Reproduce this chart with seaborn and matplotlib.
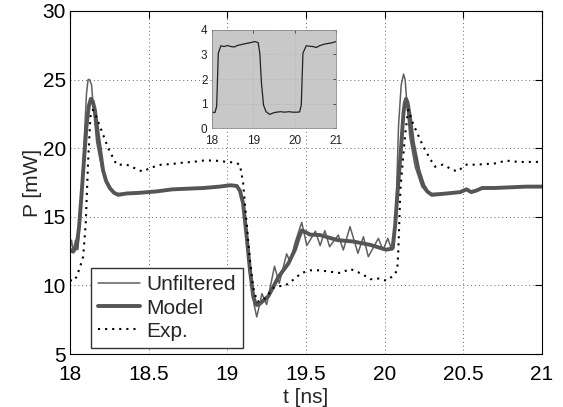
import matplotlib
matplotlib.use("Agg")
import matplotlib.pyplot as plt
import seaborn as sns
import numpy as np

# ---- data ----
t_model = [18.00, 18.02, 18.042, 18.058, 18.074, 18.09, 18.105, 18.12, 18.133, 18.145, 18.158,
           18.18, 18.21, 18.23, 18.254, 18.28, 18.307, 18.36, 18.445, 18.55, 18.65, 18.75,
           18.85, 18.95, 19.02, 19.06, 19.08, 19.10, 19.123, 19.144, 19.165, 19.177, 19.187,
           19.20, 19.22, 19.26, 19.324, 19.388, 19.43, 19.455, 19.473, 19.495, 19.526, 19.59,
           19.70, 19.80, 19.91, 20.01, 20.05, 20.066, 20.082, 20.098, 20.12, 20.128, 20.136,
           20.146, 20.16, 20.18, 20.215, 20.246, 20.27, 20.30, 20.395, 20.48, 20.52, 20.55,
           20.58, 20.62, 20.70, 20.80, 20.90, 21.00]
p_model = [12.6, 12.46, 12.82, 14.3, 16.7, 19.3, 21.6, 23.1, 23.6, 23.4, 22.8,
           20.8, 18.4, 17.6, 17.08, 16.75, 16.6, 16.7, 16.75, 16.85, 17.0, 17.05,
           17.1, 17.2, 17.3, 17.25, 16.9, 16.0, 13.55, 11.1, 9.2, 8.75, 8.57,
           8.6, 8.8, 9.2, 10.6, 11.6, 12.6, 13.5, 14.0, 13.9, 13.7, 13.67,
           13.3, 13.2, 12.95, 12.6, 12.7, 14.3, 16.8, 19.1, 22.6, 23.3, 23.6,
           23.3, 22.3, 20.4, 18.4, 17.3, 16.85, 16.6, 16.7, 16.8, 17.0, 16.8,
           16.9, 17.1, 17.1, 17.15, 17.2, 17.2]

t_unf = [18.00, 18.01, 18.02, 18.035, 18.05, 18.07, 18.09, 18.105, 18.115, 18.125, 18.137,
         18.15, 18.17, 18.20, 18.22, 18.243, 18.27, 18.30, 18.36, 18.445, 18.55, 18.65, 18.75,
         18.85, 18.95, 19.02, 19.06, 19.08, 19.10, 19.123, 19.15, 19.17, 19.187, 19.205, 19.22,
         19.25, 19.30, 19.33, 19.377, 19.40, 19.43, 19.473, 19.505, 19.56, 19.59, 19.62, 19.65,
         19.705, 19.737, 19.78, 19.83, 19.865, 19.896, 19.96, 19.99, 20.02, 20.045, 20.06,
         20.075, 20.088, 20.105, 20.12, 20.13, 20.14, 20.16, 20.194, 20.236, 20.26, 20.29,
         20.395, 20.48, 20.52, 20.55, 20.58, 20.62, 20.70, 20.80, 20.90, 21.00]
p_unf = [12.7, 13.3, 12.5, 13.3, 12.6, 15.5, 20.5, 24.0, 25.0, 25.0, 24.6,
         22.8, 20.4, 18.65, 17.8, 17.2, 16.85, 16.7, 16.7, 16.8, 16.85, 17.0, 17.05,
         17.1, 17.2, 17.3, 17.25, 16.9, 16.0, 13.4, 10.5, 8.6, 7.7, 8.6, 9.4,
         8.6, 11.4, 10.15, 12.3, 11.7, 13.1, 14.6, 12.9, 13.95, 12.9, 13.99, 12.82,
         13.67, 12.58, 14.28, 12.34, 13.55, 12.09, 13.43, 12.58, 13.43, 12.58, 12.8,
         16.5, 21.6, 24.6, 25.4, 25.0, 23.5, 20.8, 18.65, 17.2, 16.9, 16.7,
         16.7, 16.8, 17.0, 16.8, 16.9, 17.1, 17.1, 17.15, 17.2, 17.2]

t_exp = [18.00, 18.02, 18.04, 18.06, 18.084, 18.10, 18.115, 18.13, 18.145, 18.16, 18.19, 18.243,
         18.296, 18.36, 18.42, 18.46, 18.52, 18.58, 18.65, 18.72, 18.78, 18.85, 18.92, 19.00,
         19.05, 19.08, 19.10, 19.123, 19.144, 19.165, 19.19, 19.24, 19.30, 19.37, 19.43, 19.47,
         19.53, 19.59, 19.65, 19.72, 19.78, 19.83, 19.875, 19.91, 19.96, 20.01, 20.055, 20.08,
         20.087, 20.10, 20.13, 20.15, 20.18, 20.242, 20.29, 20.32, 20.37, 20.42, 20.46, 20.52,
         20.58, 20.65, 20.71, 20.77, 20.85, 20.92, 21.00]
p_exp = [10.4, 10.3, 10.6, 11.2, 12.1, 14.5, 19.0, 22.3, 22.8, 22.5, 21.6, 20.0,
         18.8, 18.8, 18.5, 18.3, 18.6, 18.8, 18.85, 18.95, 19.0, 19.1, 19.1, 19.0,
         18.95, 18.8, 17.5, 14.5, 11.8, 9.8, 8.8, 9.06, 9.9, 10.0, 10.5, 10.9,
         11.1, 11.1, 11.0, 10.9, 11.2, 10.97, 10.7, 10.45, 10.5, 10.35, 10.7, 11.1,
         12.6, 17.0, 21.0, 22.8, 21.8, 20.2, 19.2, 18.65, 18.8, 18.5, 18.3, 18.8,
         18.8, 18.85, 18.9, 19.1, 19.0, 19.0, 19.0]

t_inset = [18.00, 18.08, 18.12, 18.16, 18.22, 18.30, 18.38, 18.46, 18.54, 18.62, 18.72, 18.82,
           18.92, 19.04, 19.12, 19.16, 19.20, 19.25, 19.31, 19.40, 19.48, 19.56, 19.66, 19.76,
           19.86, 19.96, 20.06, 20.12, 20.16, 20.20, 20.28, 20.36, 20.44, 20.52, 20.60, 20.70,
           20.80, 20.90, 21.00]
v_inset = [0.65, 0.65, 0.9, 3.05, 3.35, 3.32, 3.36, 3.32, 3.30, 3.36, 3.40, 3.44,
           3.47, 3.52, 3.48, 3.05, 1.84, 0.95, 0.68, 0.57, 0.63, 0.66, 0.68, 0.66,
           0.68, 0.66, 0.66, 0.67, 0.95, 3.05, 3.35, 3.33, 3.32, 3.28, 3.35, 3.41,
           3.44, 3.47, 3.52]

x_ticks = [18, 18.5, 19, 19.5, 20, 20.5, 21]
x_ticklabels = ["18", "18.5", "19", "19.5", "20", "20.5", "21"]
y_ticks = [5, 10, 15, 20, 25, 30]
inset_xticks = [18, 19, 20, 21]
inset_yticks = [0, 1, 2, 3, 4]

# ---- style ----
sns.set_style("white")
plt.rcParams["font.family"] = ["Liberation Sans", "DejaVu Sans"]
plt.rcParams["xtick.direction"] = "in"
plt.rcParams["ytick.direction"] = "in"
plt.rcParams["lines.solid_joinstyle"] = "round"
plt.rcParams["lines.solid_capstyle"] = "round"

fig = plt.figure(figsize=(5.63, 4.07), dpi=100)
ax = fig.add_axes([0.1243, 0.1302, 0.8384, 0.8428])

sns.lineplot(x=t_unf, y=p_unf, ax=ax, color="#606060", lw=1.1, label="Unfiltered", sort=False)
sns.lineplot(x=t_model, y=p_model, ax=ax, color="#555555", lw=2.8, label="Model", sort=False)
sns.lineplot(x=t_exp, y=p_exp, ax=ax, color="black", lw=1.5, ls=(0, (1, 2.4)), label="Exp.", sort=False)

ax.set_xlim(18, 21)
ax.set_ylim(5, 30)
ax.set_xticks(x_ticks)
ax.set_xticklabels(x_ticklabels)
ax.set_yticks(y_ticks)
ax.tick_params(axis="both", labelsize=15, length=5, width=0.8, top=True, right=True,
               colors="black")
ax.tick_params(axis="x", pad=8)
ax.tick_params(axis="y", pad=3)
ax.grid(True, color="#666666", ls=(0, (1, 3)), lw=0.7)
for s in ax.spines.values():
    s.set_color("black")
    s.set_linewidth(0.8)
ax.set_xlabel("t [ns]", fontsize=15, labelpad=3)
ax.set_ylabel("P [mW]", fontsize=15, labelpad=0)

leg = ax.legend(loc="lower left", bbox_to_anchor=(0.044, 0.0175), borderaxespad=0,
                fontsize=15, fancybox=False, framealpha=1, edgecolor="#333333",
                handlelength=2.0, handletextpad=0.3, labelspacing=0.2, borderpad=0.35)
leg.get_frame().set_linewidth(1.0)

# ---- inset ----
axi = fig.add_axes([0.376, 0.6843, 0.221, 0.2427])
axi.set_facecolor("#c8c8c8")
sns.lineplot(x=t_inset, y=v_inset, ax=axi, color="#222222", lw=0.9, sort=False)
axi.set_xlim(18, 21)
axi.set_ylim(0, 4)
axi.set_xticks(inset_xticks)
axi.set_yticks(inset_yticks)
axi.tick_params(axis="both", labelsize=8.5, length=2, width=0.5, top=True, right=True,
                colors="#222222")
axi.tick_params(axis="x", pad=4.5)
axi.tick_params(axis="y", pad=3)
axi.grid(True, color="#aaaaaa", ls=(0, (1, 2)), lw=0.5)
for s in axi.spines.values():
    s.set_color("#888888")
    s.set_linewidth(0.6)

fig.savefig("out.png", dpi=100)
